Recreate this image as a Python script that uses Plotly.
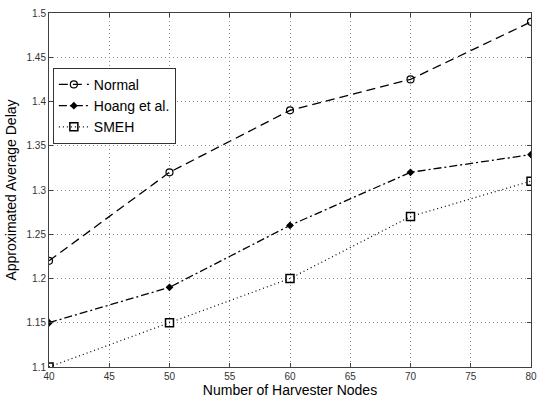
import plotly.graph_objects as go

# Number of harvester nodes
nodes = [40, 50, 60, 70, 80]

# Approximated average delay per scheme
normal = [1.22, 1.32, 1.39, 1.425, 1.49]
hoang = [1.15, 1.19, 1.26, 1.32, 1.34]
smeh = [1.10, 1.15, 1.20, 1.27, 1.31]

x_ticks = [40, 45, 50, 55, 60, 65, 70, 75, 80]
y_ticks = [1.1, 1.15, 1.2, 1.25, 1.3, 1.35, 1.4, 1.45, 1.5]
y_tick_text = ["1.1", "1.15", "1.2", "1.25", "1.3", "1.35", "1.4", "1.45", "1.5"]

fig = go.Figure()

fig.add_trace(go.Scatter(
    x=nodes, y=normal, name="Normal", mode="lines+markers",
    line=dict(color="black", width=1.3, dash="9px,5px"),
    marker=dict(symbol="circle-open", size=7, color="black", line=dict(width=1.2)),
))
fig.add_trace(go.Scatter(
    x=nodes, y=hoang, name="Hoang et al.", mode="lines+markers",
    line=dict(color="black", width=1.3, dash="8px,3px,2px,3px"),
    marker=dict(symbol="diamond", size=6, color="black"),
))
fig.add_trace(go.Scatter(
    x=nodes, y=smeh, name="SMEH", mode="lines+markers",
    line=dict(color="black", width=1.2, dash="1px,3px"),
    marker=dict(symbol="square-open", size=8, color="black", line=dict(width=1.5)),
))

axis_common = dict(
    showline=True, linecolor="#404040", linewidth=1, mirror="ticks",
    ticks="inside", ticklen=4, tickcolor="#404040",
    showgrid=True, gridcolor="#8a8a8a", griddash="1px,3px", gridwidth=1,
    zeroline=False, ticklabeloverflow="allow",
    tickfont=dict(family="Liberation Sans, Arial, sans-serif", size=10, color="#333333"),
)

fig.update_xaxes(
    range=[40, 80], tickvals=x_ticks,
    title=dict(text="Number of Harvester Nodes", standoff=2,
               font=dict(family="Liberation Sans, Arial, sans-serif", size=14, color="black")),
    **axis_common,
)
fig.update_yaxes(
    range=[1.1, 1.5], tickvals=y_ticks, ticktext=y_tick_text,
    title=dict(text="Approximated Average Delay", standoff=6,
               font=dict(family="Liberation Sans, Arial, sans-serif", size=14, color="black")),
    **axis_common,
)

fig.update_layout(
    width=538, height=401,
    margin=dict(l=49, r=1, t=13, b=34),
    paper_bgcolor="white", plot_bgcolor="white",
    showlegend=True,
    legend=dict(
        x=0.008, y=0.845, xanchor="left", yanchor="top",
        bgcolor="white", bordercolor="#333333", borderwidth=1,
        font=dict(family="Liberation Sans, Arial, sans-serif", size=14, color="black"),
        tracegroupgap=0, itemwidth=30,
    ),
)

fig.write_html("out.html")
